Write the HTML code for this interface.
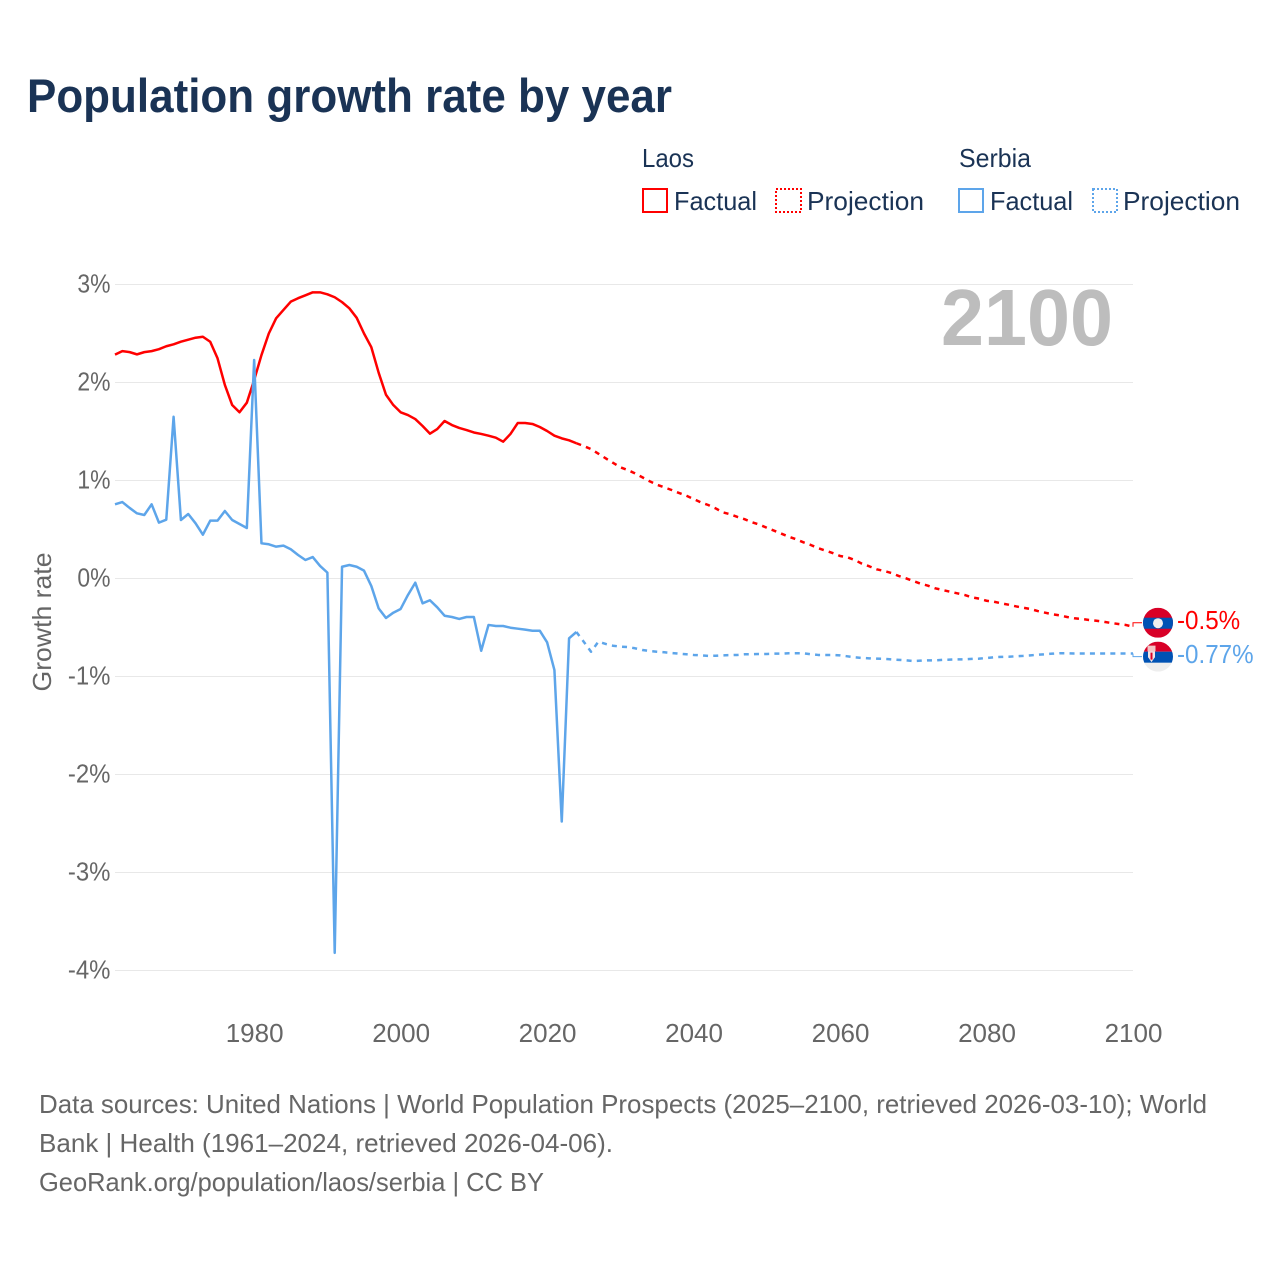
<!DOCTYPE html>
<html lang="en">
<head>
<meta charset="utf-8">
<title>Population growth rate by year</title>
<style>
html,body{margin:0;padding:0;background:#fff;}
svg{display:block;font-family:"Liberation Sans",sans-serif;}
</style>
</head>
<body>
<svg id="chart" xmlns="http://www.w3.org/2000/svg" width="1280" height="1280" viewBox="0 0 1280 1280">
  <rect x="0" y="0" width="1280" height="1280" fill="#fff"/>
  <text x="27" y="112" font-size="47" font-weight="700" fill="#1a3355" textLength="645" lengthAdjust="spacingAndGlyphs">Population growth rate by year</text>

  <g font-size="26" fill="#1a3355">
    <text x="642" y="167" textLength="52" lengthAdjust="spacingAndGlyphs">Laos</text>
    <text x="959" y="167" textLength="72" lengthAdjust="spacingAndGlyphs">Serbia</text>
    <rect x="643" y="189" width="24" height="23" fill="none" stroke="#ff0000" stroke-width="2"/>
    <text x="674" y="210" textLength="83" lengthAdjust="spacingAndGlyphs">Factual</text>
    <rect x="776" y="189" width="25" height="23" fill="none" stroke="#ff0000" stroke-width="2" stroke-dasharray="2 2"/>
    <text x="807" y="210" textLength="117" lengthAdjust="spacingAndGlyphs">Projection</text>
    <rect x="959" y="189" width="24" height="23" fill="none" stroke="#5da5ea" stroke-width="2"/>
    <text x="990" y="210" textLength="83" lengthAdjust="spacingAndGlyphs">Factual</text>
    <rect x="1093" y="189" width="24" height="23" fill="none" stroke="#5da5ea" stroke-width="2" stroke-dasharray="2 2"/>
    <text x="1123" y="210" textLength="117" lengthAdjust="spacingAndGlyphs">Projection</text>
  </g>

  <g id="grid"></g>
  <g id="y-ticks"></g>
  <g id="x-ticks"></g>
  <text transform="translate(51 622) rotate(-90)" text-anchor="middle" font-size="26" fill="#666" textLength="139" lengthAdjust="spacingAndGlyphs">Growth rate</text>
  <text x="941" y="345" font-size="80" font-weight="700" fill="#bdbdbd" textLength="172" lengthAdjust="spacingAndGlyphs">2100</text>

  <g id="series" fill="none" stroke-width="2.5" stroke-linejoin="round"></g>

  <defs>
    <clipPath id="flag-clip"><circle cx="0" cy="0" r="15"/></clipPath>
  </defs>
  <g id="flag-laos">
    <g clip-path="url(#flag-clip)">
      <rect x="-15" y="-15" width="30" height="30" fill="#d80027"/>
      <rect x="-15" y="-5" width="30" height="11" fill="#0052b4"/>
      <circle cx="0" cy="0.5" r="5" fill="#eeeeee"/>
    </g>
  </g>
  <g id="flag-serbia">
    <g clip-path="url(#flag-clip)">
      <rect x="-15" y="-15" width="30" height="30" fill="#eeeeee"/>
      <rect x="-15" y="-15" width="30" height="10" fill="#d80027"/>
      <rect x="-15" y="-5" width="30" height="11" fill="#0052b4"/>
      <path d="M-10.500 -11h8v5.500h-8z" fill="#f3c5c5"/>
      <path d="M-10 -5.500h7v6l-3.500 5l-3.500 -5z" fill="#f3e4e4"/>
      <path d="M-7.500 -4h2v7h-2z" fill="#d80027"/>
    </g>
  </g>
  <g id="end-labels"></g>

  <g font-size="26" fill="#666">
    <text x="39" y="1113" textLength="1168" lengthAdjust="spacingAndGlyphs">Data sources: United Nations | World Population Prospects (2025–2100, retrieved 2026-03-10); World</text>
    <text x="39" y="1152" textLength="574" lengthAdjust="spacingAndGlyphs">Bank | Health (1961–2024, retrieved 2026-04-06).</text>
    <text x="39" y="1191" textLength="505" lengthAdjust="spacingAndGlyphs">GeoRank.org/population/laos/serbia | CC BY</text>
  </g>
</svg>

<script>
const factualYears = [1961,1962,1963,1964,1965,1966,1967,1968,1969,1970,1971,1972,1973,1974,1975,1976,1977,1978,1979,1980,1981,1982,1983,1984,1985,1986,1987,1988,1989,1990,1991,1992,1993,1994,1995,1996,1997,1998,1999,2000,2001,2002,2003,2004,2005,2006,2007,2008,2009,2010,2011,2012,2013,2014,2015,2016,2017,2018,2019,2020,2021,2022,2023,2024];
const projectionYears = [2024,2025,2026,2027,2028,2029,2030,2031,2032,2033,2034,2035,2036,2037,2038,2039,2040,2041,2042,2043,2044,2045,2046,2047,2048,2049,2050,2051,2052,2053,2054,2055,2056,2057,2058,2059,2060,2061,2062,2063,2064,2065,2066,2067,2068,2069,2070,2071,2072,2073,2074,2075,2076,2077,2078,2079,2080,2081,2082,2083,2084,2085,2086,2087,2088,2089,2090,2091,2092,2093,2094,2095,2096,2097,2098,2099,2100];
const laosFactual = [2.284,2.32,2.31,2.287,2.31,2.32,2.34,2.37,2.39,2.416,2.437,2.457,2.467,2.416,2.247,1.975,1.77,1.696,1.794,2.025,2.28,2.5,2.655,2.74,2.825,2.86,2.89,2.92,2.92,2.9,2.87,2.82,2.757,2.66,2.5,2.36,2.1,1.875,1.77,1.696,1.668,1.627,1.556,1.478,1.525,1.607,1.566,1.536,1.515,1.49,1.475,1.457,1.437,1.396,1.475,1.587,1.587,1.577,1.546,1.505,1.457,1.43,1.41,1.38];
const laosProjection = [1.38,1.352,1.32,1.274,1.226,1.18,1.135,1.107,1.073,1.033,0.992,0.957,0.93,0.903,0.873,0.845,0.811,0.777,0.75,0.716,0.675,0.655,0.628,0.604,0.573,0.549,0.518,0.488,0.457,0.427,0.4,0.369,0.342,0.31,0.285,0.26,0.23,0.216,0.189,0.151,0.124,0.094,0.077,0.056,0.026,0.002,-0.026,-0.053,-0.073,-0.1,-0.117,-0.135,-0.151,-0.168,-0.192,-0.206,-0.227,-0.237,-0.253,-0.267,-0.284,-0.298,-0.311,-0.332,-0.349,-0.365,-0.376,-0.393,-0.406,-0.413,-0.423,-0.431,-0.441,-0.454,-0.464,-0.474,-0.492];
const serbiaFactual = [0.757,0.78,0.72,0.665,0.648,0.757,0.57,0.6,1.65,0.597,0.658,0.563,0.447,0.59,0.59,0.689,0.597,0.556,0.515,2.23,0.359,0.349,0.325,0.335,0.298,0.24,0.189,0.219,0.128,0.06,-3.82,0.12,0.138,0.12,0.08,-0.077,-0.305,-0.403,-0.349,-0.311,-0.168,-0.043,-0.253,-0.222,-0.294,-0.38,-0.393,-0.413,-0.393,-0.393,-0.737,-0.474,-0.485,-0.485,-0.502,-0.512,-0.522,-0.533,-0.533,-0.651,-0.934,-2.48,-0.61,-0.546];
const serbiaProjection = [-0.546,-0.645,-0.747,-0.645,-0.668,-0.686,-0.695,-0.7,-0.712,-0.73,-0.74,-0.747,-0.753,-0.76,-0.767,-0.773,-0.78,-0.784,-0.79,-0.788,-0.784,-0.782,-0.78,-0.773,-0.772,-0.77,-0.77,-0.767,-0.767,-0.763,-0.763,-0.763,-0.773,-0.78,-0.78,-0.78,-0.784,-0.794,-0.804,-0.811,-0.815,-0.818,-0.82,-0.825,-0.83,-0.835,-0.842,-0.838,-0.835,-0.835,-0.83,-0.828,-0.825,-0.825,-0.82,-0.818,-0.811,-0.804,-0.8,-0.798,-0.794,-0.79,-0.784,-0.778,-0.773,-0.767,-0.763,-0.763,-0.765,-0.765,-0.765,-0.765,-0.765,-0.765,-0.765,-0.765,-0.765];
const yTickValues = [3,2,1,0,-1,-2,-3,-4];
const yTickLabels = ["3%","2%","1%","0%","-1%","-2%","-3%","-4%"];
const xTickValues = [1980,2000,2020,2040,2060,2080,2100];
const xTickLabels = ["1980","2000","2020","2040","2060","2080","2100"];
const endLabels = ["-0.5%","-0.77%"];

const SVGNS = 'http://www.w3.org/2000/svg';
const plotLeft = 115, plotRight = 1133, domainX0 = 1961, domainX1 = 2100;
const y3pct = 284.5, pxPerPct = 98;
const RED = '#ff0000', BLUE = '#5da5ea';

function xScale(year) {
  return plotLeft + (year - domainX0) * (plotRight - plotLeft) / (domainX1 - domainX0);
}
function yScale(v) {
  return y3pct + (3 - v) * pxPerPct;
}
function make(tag, parent, attrs, text) {
  const el = document.createElementNS(SVGNS, tag);
  for (const k in attrs) el.setAttribute(k, attrs[k]);
  if (text !== undefined) el.textContent = text;
  parent.appendChild(el);
  return el;
}
function linePath(xs, ys) {
  return xs.map(function (yr, i) {
    return (i ? 'L' : 'M') + xScale(yr).toFixed(2) + ' ' + yScale(ys[i]).toFixed(2);
  }).join('');
}
function condense(el, factor) {
  const w = el.getComputedTextLength();
  el.setAttribute('textLength', (w * factor).toFixed(1));
  el.setAttribute('lengthAdjust', 'spacingAndGlyphs');
}

const gridG = document.getElementById('grid');
const yTickG = document.getElementById('y-ticks');
yTickValues.forEach(function (v, i) {
  const line = make('line', gridG, {x1: plotLeft, x2: plotRight, y1: yScale(v), y2: yScale(v), stroke: '#e8e8e8', 'stroke-width': 1});
  
  
  const label = make('text', yTickG, {x: 110.5, y: yScale(v) + 8, 'text-anchor': 'end', 'font-size': 26, fill: '#666'}, yTickLabels[i]);
  
  
  condense(label, yTickLabels[i].charAt(0) === '-' ? 0.92 : 0.88);
});

const xTickG = document.getElementById('x-ticks');
xTickValues.forEach(function (yr, i) {
  const label = make('text', xTickG, {x: xScale(yr) + 0.5, y: 1042, 'text-anchor': 'middle', 'font-size': 26, fill: '#666'}, xTickLabels[i]);
  
  
});

const seriesG = document.getElementById('series');
const laosFactualLine = make('path', seriesG, {d: linePath(factualYears, laosFactual), stroke: RED});


const laosProjectionLine = make('path', seriesG, {d: linePath(projectionYears, laosProjection), stroke: RED, 'stroke-dasharray': '5 5.2'});


const serbiaFactualLine = make('path', seriesG, {d: linePath(factualYears, serbiaFactual), stroke: BLUE});


const serbiaProjectionLine = make('path', seriesG, {d: linePath(projectionYears, serbiaProjection), stroke: BLUE, 'stroke-dasharray': '5 5.2'});



const laosEndY = yScale(laosProjection[laosProjection.length - 1]);
const serbiaEndY = yScale(serbiaProjection[serbiaProjection.length - 1]);
const laosFlagY = laosEndY - 4;
const serbiaFlagY = serbiaEndY + 3.2;
const flagX = 1158;
document.getElementById('flag-laos').setAttribute('transform', 'translate(' + flagX + ' ' + laosFlagY + ')');
document.getElementById('flag-serbia').setAttribute('transform', 'translate(' + flagX + ' ' + serbiaFlagY + ')');

const labelG = document.getElementById('end-labels');
const laosConnector = make('path', labelG, {d: 'M' + plotRight + ' ' + laosEndY + 'V' + laosFlagY + 'H1142', fill: 'none', stroke: RED, 'stroke-width': 1});


const serbiaConnector = make('path', labelG, {d: 'M' + plotRight + ' ' + serbiaEndY + 'V' + serbiaFlagY + 'H1142', fill: 'none', stroke: BLUE, 'stroke-width': 1});


const laosValue = make('text', labelG, {x: 1177, y: laosFlagY + 6.5, 'font-size': 26, fill: RED}, endLabels[0]);


condense(laosValue, 0.93);
const serbiaValue = make('text', labelG, {x: 1177, y: serbiaFlagY + 6.5, 'font-size': 26, fill: BLUE}, endLabels[1]);


condense(serbiaValue, 0.93);
</script>
</body>
</html>
